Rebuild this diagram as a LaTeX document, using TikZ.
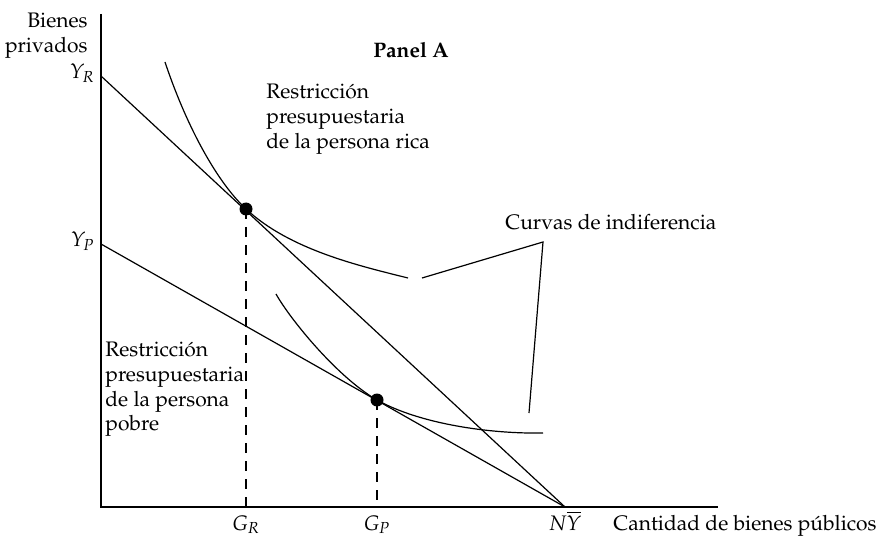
\documentclass[tikz,border=0pt]{standalone}
\usepackage[T1]{fontenc}
\usepackage{mathpazo}
\begin{document}
\begin{tikzpicture}[x=0.5pt,y=-0.5pt,
  lbl/.style={inner sep=0pt,font=\fontsize{10.5}{12.3}\selectfont},
  axisline/.style={line width=0.8pt},
  budget/.style={line width=0.6pt},
  indiff/.style={line width=0.6pt},
  guide/.style={line width=0.6pt,dash pattern=on 5pt off 4pt},
  dotpt/.style={circle,fill=black,inner sep=0pt,minimum size=6.5pt}]
\useasboundingbox (0,0) rectangle (879,540);
% coordinates
\coordinate (top) at (101,14);
\coordinate (O) at (101,507);
\coordinate (xend) at (718,507);
\coordinate (YR) at (101,76);
\coordinate (YP) at (101,244);
\coordinate (NY) at (565,507);
\coordinate (GR) at (246,507);
\coordinate (GP) at (377,507);
\coordinate (b1) at (422,278);
\coordinate (b2) at (543,242);
\coordinate (b3) at (529,413);
% axes
\draw[axisline] (top) -- (O) -- (xend);
% budget lines
\draw[budget] (YR) -- (NY);
\draw[budget] (YP) -- (NY);
% tangency points
\node[dotpt] (R) at (246,209) {};
\node[dotpt] (P) at (377,400) {};
% dashed guides
\draw[guide] (R.center) -- (GR);
\draw[guide] (P.center) -- (GP);
% indifference curves
\draw[indiff] (165,62) .. controls (185,122) and (215,180) .. (R.center)
  .. controls (290,250) and (360,266) .. (408,278);
\draw[indiff] (276,294) .. controls (290,319) and (337,377) .. (P.center)
  .. controls (420,424) and (490,434) .. (543,433);
% bracket
\draw[budget] (b1) -- (b2) -- (b3);
% labels
\node[lbl,anchor=north east,align=right] (ylab) at (88,13) {Bienes\\privados};
\node[lbl,anchor=base east] (yr) at (95,79) {$Y_R$};
\node[lbl,anchor=base east] (yp) at (95,247) {$Y_P$};
\node[lbl,anchor=base] (gr) at (246,530) {$G_R$};
\node[lbl,anchor=base] (gp) at (377,530) {$G_P$};
\node[lbl,anchor=base] (ny) at (565,530) {$N\overline{Y}$};
\node[lbl,anchor=base east] (xlab) at (877,530) {Cantidad de bienes p\'ublicos};
\node[lbl,anchor=base,font=\fontsize{10.5}{12.3}\selectfont\bfseries] (panel) at (411,58) {Panel A};
\node[lbl,anchor=north west,align=left] (rich) at (266,84) {Restricci\'on\\presupuestaria\\de la persona rica};
\node[lbl,anchor=north west,align=left] (poor) at (105,342) {Restricci\'on\\presupuestaria\\de la persona\\pobre};
\node[lbl,anchor=north west] (curv) at (505,214) {Curvas de indiferencia};
\end{tikzpicture}
\end{document}
